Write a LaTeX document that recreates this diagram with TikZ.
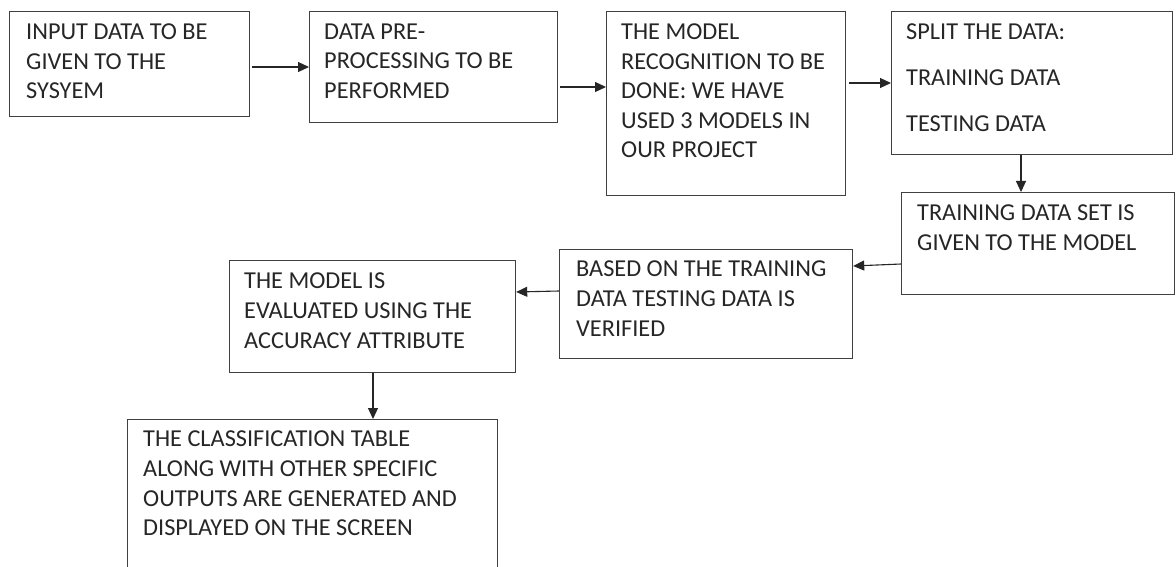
\documentclass[tikz,border=0pt]{standalone}
\usepackage{fontspec}
\setmainfont{Carlito}
\usetikzlibrary{arrows.meta}
\definecolor{boxline}{HTML}{404040}
\definecolor{txt}{HTML}{262626}
\tikzset{
  box/.style={draw=boxline, line width=1.2pt, rectangle},
  lbl/.style={anchor=north west, inner sep=0pt, align=left, text=txt,
              font={\fontsize{24.3}{29.6}\selectfont}},
  arr/.style={draw=black!85, line width=1.1pt, -{Triangle[length=11pt,width=10pt]}}
}
\begin{document}
\begin{tikzpicture}[x=1pt,y=-1pt]
\clip (0,0) rectangle (1176,567);
\fill[white] (0,0) rectangle (1176,567);
% boxes
\node[box, minimum width=240pt, minimum height=105pt, anchor=north west] (b1) at (9,11) {};
\node[box, minimum width=248pt, minimum height=111pt, anchor=north west] (b2) at (309,11) {};
\node[box, minimum width=239pt, minimum height=184pt, anchor=north west] (b3) at (606,11) {};
\node[box, minimum width=281pt, minimum height=143pt, anchor=north west] (b4) at (891,11) {};
\node[box, minimum width=273pt, minimum height=102pt, anchor=north west] (b5) at (901,192) {};
\node[box, minimum width=293pt, minimum height=109pt, anchor=north west] (b6) at (559,249) {};
\node[box, minimum width=286pt, minimum height=112pt, anchor=north west] (b7) at (229,260) {};
\node[box, minimum width=370pt, minimum height=170pt, anchor=north west] (b8) at (127,419) {};
% texts
\node[lbl] (t1) at (26,23.5) {INPUT DATA TO BE\\GIVEN TO THE\\SYSYEM};
\node[lbl] (t2) at (324,23.5) {DATA PRE-\\PROCESSING TO BE\\PERFORMED};
\node[lbl] (t3) at (621,23.5) {THE MODEL\\RECOGNITION TO BE\\DONE: WE HAVE\\USED 3 MODELS IN\\OUR PROJECT};
\node[lbl] (t4) at (906,24) {SPLIT THE DATA:\\[16pt]TRAINING DATA\\[16pt]TESTING DATA};
\node[lbl] (t5) at (917,204.5) {TRAINING DATA SET IS\\GIVEN TO THE MODEL};
\node[lbl] (t6) at (576,261) {BASED ON THE TRAINING\\DATA TESTING DATA IS\\VERIFIED};
\node[lbl] (t7) at (244,273) {THE MODEL IS\\EVALUATED USING THE\\ACCURACY ATTRIBUTE};
\node[lbl] (t8) at (143,431) {THE CLASSIFICATION TABLE\\ALONG WITH OTHER SPECIFIC\\OUTPUTS ARE GENERATED AND\\DISPLAYED ON THE SCREEN};
% connectors
\draw[arr] ([xshift=2pt]b1.east |- 0,67) -- (b2.west |- 0,67);
\draw[arr] ([xshift=2pt]b2.east |- 0,87) -- (b3.west |- 0,87);
\draw[arr] ([xshift=3pt]b3.east |- 0,83) -- (b4.west |- 0,83);
\draw[arr] (b4.south -| 1021,0) -- (b5.north -| 1021,0);
\draw[arr] (b5.west |- 0,264) -- (b6.east |- 0,266);
\draw[arr] (b6.west |- 0,291) -- (b7.east |- 0,292);
\draw[arr] (b7.south -| 373,0) -- (b8.north -| 373,0);
\end{tikzpicture}
\end{document}
